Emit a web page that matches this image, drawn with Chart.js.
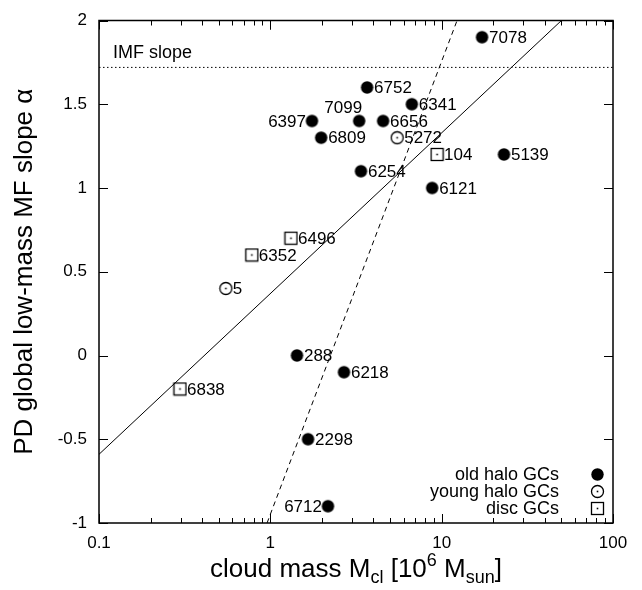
<!DOCTYPE html>
<html>
<head>
<meta charset="utf-8">
<script src="https://cdn.jsdelivr.net/npm/chart.js@4/dist/chart.umd.min.js"></script>
<style>
  html, body { margin: 0; padding: 0; background: #fff; }
  canvas { display: block; }
</style>
</head>
<body>
<canvas id="mfChart" width="642" height="590"></canvas>
<script>
// dados
const oldHaloNames = ['7078', '6752', '6341', '6656', '7099', '6397', '6809', '5139', '6254', '6121', '288', '6218', '2298', '6712'];
const oldHaloMass  = [17.2, 3.67, 6.7, 4.55, 3.3, 1.75, 1.98, 23.1, 3.38, 8.8, 1.43, 2.69, 1.66, 2.17];
const oldHaloSlope = [1.9, 1.6, 1.5, 1.4, 1.4, 1.4, 1.3, 1.2, 1.1, 1.0, 0.0, -0.1, -0.5, -0.9];

const youngHaloNames = ['5272', '5'];
const youngHaloMass  = [5.5, 0.55];
const youngHaloSlope = [1.3, 0.4];

const discNames = ['104', '6496', '6352', '6838'];
const discMass  = [9.4, 1.32, 0.78, 0.297];
const discSlope = [1.2, 0.7, 0.6, -0.2];

// retas do ajuste (extremos)
const solidFitMass  = [0.1, 50];
const solidFitSlope = [-0.59, 2.0];
const dashedFitMass  = [0.957, 12.3];
const dashedFitSlope = [-1.0, 2.0];
const imfMass  = [0.1, 100];
const imfSlope = [1.72, 1.72];

const xTickValues = [0.1, 1, 10, 100];
const yTickValues = [-1, -0.5, 0, 0.5, 1, 1.5, 2];
const legendLabels = ['old halo GCs', 'young halo GCs', 'disc GCs'];

// rótulos que não ficam à direita do ponto
const labelSide = { '6397': 'left', '6712': 'left', '7099': 'above' };

const FONT = '"Liberation Sans", Arial, Helvetica, sans-serif';

function toPoints(xs, ys) {
    return xs.map(function (x, i) { return { x: x, y: ys[i] }; });
}

// marcadores desenhados num canvas pequeno
function makeMarker(kind) {
    const c = document.createElement('canvas');
    c.width = 15;
    c.height = 15;
    const g = c.getContext('2d');
    g.strokeStyle = '#000';
    g.fillStyle = '#000';
    g.lineWidth = 1.3;
    if (kind === 'filled') {
        g.beginPath();
        g.arc(7.5, 7.5, 6.2, 0, Math.PI * 2);
        g.fill();
    } else if (kind === 'circle') {
        g.beginPath();
        g.arc(7.5, 7.5, 6, 0, Math.PI * 2);
        g.stroke();
        g.fillRect(6.7, 6.7, 1.6, 1.6);
    } else {
        g.strokeRect(1.5, 1.5, 12, 12);
        g.fillRect(6.7, 6.7, 1.6, 1.6);
    }
    return c;
}

const markers = {
    filled: makeMarker('filled'),
    circle: makeMarker('circle'),
    square: makeMarker('square')
};

const pointSets = [
    { names: oldHaloNames, marker: markers.filled },
    { names: youngHaloNames, marker: markers.circle },
    { names: discNames, marker: markers.square }
];

const overlayPlugin = {
    id: 'overlay',
    afterDraw: function (chart) {
        const ctx = chart.ctx;
        const area = chart.chartArea;
        const xs = chart.scales.x;
        const ys = chart.scales.y;

        ctx.save();
        ctx.setLineDash([]);
        ctx.strokeStyle = '#000';
        ctx.fillStyle = '#000';

        // moldura
        ctx.lineWidth = 1.5;
        ctx.strokeRect(area.left, area.top, area.right - area.left, area.bottom - area.top);

        // marcas dos eixos, para dentro (também em cima e à direita)
        [0.1, 1, 10].forEach(function (d) {
            for (let m = 1; m <= 10; m++) {
                const px = Math.round(xs.getPixelForValue(d * m));
                const len = (m === 1 || m === 10) ? 9 : 5;
                ctx.fillRect(px, area.bottom - len, 1, len);
                ctx.fillRect(px, area.top, 1, len);
            }
        });
        yTickValues.forEach(function (v) {
            const py = Math.round(ys.getPixelForValue(v));
            ctx.fillRect(area.left, py, 9, 1);
            ctx.fillRect(area.right - 9, py, 9, 1);
        });

        // rótulos dos pontos
        ctx.font = '17px ' + FONT;
        ctx.textBaseline = 'middle';
        pointSets.forEach(function (set, di) {
            const meta = chart.getDatasetMeta(di);
            meta.data.forEach(function (el, i) {
                const name = set.names[i];
                const side = labelSide[name] || 'right';
                if (side === 'left') {
                    ctx.textAlign = 'right';
                    ctx.fillText(name, el.x - 6, el.y + 1);
                } else if (side === 'above') {
                    ctx.textAlign = 'right';
                    ctx.fillText(name, el.x + 3, el.y - 13);
                } else {
                    ctx.textAlign = 'left';
                    ctx.fillText(name, el.x + 7, el.y + 1);
                }
            });
        });

        // texto da reta IMF
        ctx.font = '18px ' + FONT;
        ctx.textAlign = 'left';
        ctx.textBaseline = 'middle';
        ctx.fillText('IMF slope', area.left + 14, ys.getPixelForValue(imfSlope[0]) - 14);

        // legenda
        legendLabels.forEach(function (txt, i) {
            const ly = area.bottom - 49 + i * 17;
            ctx.textAlign = 'right';
            ctx.fillText(txt, area.right - 54, ly + 1);
            const mk = pointSets[i].marker;
            ctx.drawImage(mk, Math.round(area.right - 16 - mk.width / 2), Math.round(ly - mk.height / 2));
        });

        // título do eixo x com índices
        const big = 26;
        const small = 18;
        const parts = [
            { t: 'cloud mass M', s: big, dy: 0 },
            { t: 'cl', s: small, dy: 6 },
            { t: ' [10', s: big, dy: 0 },
            { t: '6', s: small, dy: -11 },
            { t: ' M', s: big, dy: 0 },
            { t: 'sun', s: small, dy: 6 },
            { t: ']', s: big, dy: 0 }
        ];
        let total = 0;
        parts.forEach(function (p) {
            ctx.font = p.s + 'px ' + FONT;
            p.w = ctx.measureText(p.t).width;
            total += p.w;
        });
        let tx = (area.left + area.right) / 2 - total / 2;
        const baseY = 577;
        ctx.textAlign = 'left';
        ctx.textBaseline = 'alphabetic';
        parts.forEach(function (p) {
            ctx.font = p.s + 'px ' + FONT;
            ctx.fillText(p.t, tx, baseY + p.dy);
            tx += p.w;
        });

        // título do eixo y
        ctx.translate(25, (area.top + area.bottom) / 2);
        ctx.rotate(-Math.PI / 2);
        ctx.font = big + 'px ' + FONT;
        ctx.textAlign = 'center';
        ctx.textBaseline = 'middle';
        ctx.fillText('PD global low-mass MF slope \u03b1', 0, 0);

        ctx.restore();
    }
};

document.addEventListener('DOMContentLoaded', function () {
    const ctx = document.getElementById('mfChart').getContext('2d');
    const mfChart = new Chart(ctx, {
        type: 'scatter',
        data: {
            datasets: [
                {
                    label: legendLabels[0],
                    data: toPoints(oldHaloMass, oldHaloSlope),
                    pointStyle: markers.filled
                },
                {
                    label: legendLabels[1],
                    data: toPoints(youngHaloMass, youngHaloSlope),
                    pointStyle: markers.circle
                },
                {
                    label: legendLabels[2],
                    data: toPoints(discMass, discSlope),
                    pointStyle: markers.square
                },
                {
                    label: 'fit',
                    data: toPoints(solidFitMass, solidFitSlope),
                    showLine: true,
                    borderColor: '#000',
                    borderWidth: 1,
                    pointRadius: 0
                },
                {
                    label: 'fit 2',
                    data: toPoints(dashedFitMass, dashedFitSlope),
                    showLine: true,
                    borderColor: '#000',
                    borderWidth: 1,
                    borderDash: [5, 4],
                    pointRadius: 0
                },
                {
                    label: 'IMF',
                    data: toPoints(imfMass, imfSlope),
                    showLine: true,
                    borderColor: '#000',
                    borderWidth: 1,
                    borderDash: [1.5, 2.5],
                    pointRadius: 0
                }
            ]
        },
        options: {
            responsive: false,
            animation: false,
            layout: {
                padding: { top: 9, right: 29, left: 0, bottom: 0 }
            },
            plugins: {
                legend: { display: false },
                tooltip: { enabled: false }
            },
            scales: {
                x: {
                    type: 'logarithmic',
                    min: 0.1,
                    max: 100,
                    afterBuildTicks: function (scale) {
                        scale.ticks = xTickValues.map(function (v) { return { value: v }; });
                    },
                    afterFit: function (scale) {
                        scale.height = 67;
                    },
                    ticks: {
                        color: '#000',
                        font: { family: FONT, size: 17, lineHeight: 1 },
                        padding: 12,
                        maxRotation: 0,
                        autoSkip: false,
                        callback: function (v) { return String(v); }
                    },
                    grid: { display: false, drawTicks: false },
                    border: { display: false }
                },
                y: {
                    min: -1,
                    max: 2,
                    afterBuildTicks: function (scale) {
                        scale.ticks = yTickValues.map(function (v) { return { value: v }; });
                    },
                    afterFit: function (scale) {
                        scale.width = 99;
                    },
                    ticks: {
                        color: '#000',
                        font: { family: FONT, size: 17, lineHeight: 1 },
                        padding: 12,
                        callback: function (v) { return String(v); }
                    },
                    grid: { display: false, drawTicks: false },
                    border: { display: false }
                }
            }
        },
        plugins: [overlayPlugin]
    });
});
</script>
</body>
</html>
